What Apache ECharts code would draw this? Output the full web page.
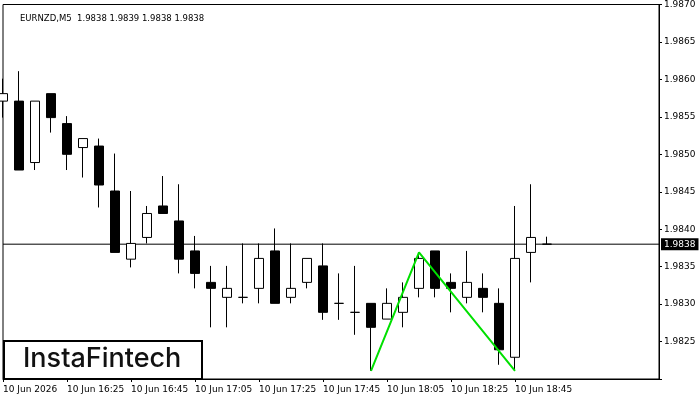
<!DOCTYPE html>
<html>
<head>
<meta charset="utf-8">
<script src="https://cdn.jsdelivr.net/npm/echarts@6/dist/echarts.min.js"></script>
<style>
html,body{margin:0;padding:0;background:#fff;}
#main{width:700px;height:400px;}
</style>
</head>
<body>
<div id="main"></div>
<script>
var times = ['16:05','16:10','16:15','16:20','16:25','16:30','16:35','16:40','16:45','16:50','16:55','17:00',
	'17:05','17:10','17:15','17:20','17:25','17:30','17:35','17:40','17:45','17:50','17:55','18:00',
	'18:05','18:10','18:15','18:20','18:25','18:30','18:35','18:40','18:45','18:50','18:55',
	'19:00','19:05','19:10','19:15','19:20','19:25','19:30'];
var opens  = [1.98571,1.98571,1.98489,1.98581,1.98541,1.98509,1.98511,1.98451,1.98360,1.98389,1.98431,1.98411,
	1.98371,1.98329,1.98309,1.98309,1.98321,1.98371,1.98309,1.98329,1.98351,1.98301,1.98289,1.98301,
	1.98280,1.98289,1.98321,1.98371,1.98329,1.98309,1.98321,1.98301,1.98229,1.98369,1.98380];
var closes = [1.98581,1.98479,1.98571,1.98549,1.98500,1.98521,1.98459,1.98369,1.98381,1.98421,1.98421,1.98360,
	1.98341,1.98321,1.98321,1.98309,1.98361,1.98301,1.98321,1.98361,1.98289,1.98301,1.98289,1.98269,
	1.98301,1.98309,1.98361,1.98321,1.98321,1.98329,1.98309,1.98239,1.98361,1.98389,1.98380];
var lows   = [1.98549,1.98479,1.98479,1.98529,1.98479,1.98469,1.98429,1.98369,1.98349,1.98381,1.98421,1.98341,
	1.98321,1.98269,1.98269,1.98301,1.98301,1.98301,1.98301,1.98321,1.98279,1.98279,1.98259,1.98211,
	1.98280,1.98269,1.98309,1.98309,1.98289,1.98301,1.98289,1.98219,1.98211,1.98329,1.98380];
var highs  = [1.98601,1.98611,1.98571,1.98581,1.98551,1.98521,1.98521,1.98501,1.98451,1.98431,1.98471,1.98460,
	1.98391,1.98351,1.98351,1.98381,1.98381,1.98401,1.98381,1.98361,1.98381,1.98341,1.98351,1.98301,
	1.98321,1.98329,1.98369,1.98371,1.98341,1.98371,1.98341,1.98321,1.98431,1.98460,1.98390];
// pattern: index -> price
var patternIdx = [23, 26, 32];
var patternVal = [1.98211, 1.98369, 1.98211];
var lastPrice = 1.9838;
var xLabelIdx = [0,4,8,12,16,20,24,28,32];

var candles = [];
for (var i = 0; i < opens.length; i++) candles.push([opens[i], closes[i], lows[i], highs[i]]);
var pattern = times.map(function(){ return null; });
patternIdx.forEach(function(k, j){ pattern[k] = patternVal[j]; });
var priceLine = times.map(function(){ return lastPrice; });

var myChart = echarts.init(document.getElementById('main'));
var font = 'DejaVu Sans';
var option = {
	animation: false,
	textStyle: {fontFamily: font},
	title: {
		text: 'EURNZD,M5  1.9838 1.9839 1.9838 1.9838',
		left: 15, top: 9,
		textStyle: {fontSize: 8.5, fontWeight: 'normal', color: '#000', fontFamily: font}
	},
	grid: {left: 3, right: 41, top: 4, bottom: 21, show: true, borderColor: '#000', borderWidth: 1},
	xAxis: {
		type: 'category', data: times, boundaryGap: false,
		axisLine: {lineStyle: {color: '#000'}},
		axisTick: {show: true, length: 3, lineStyle: {color: '#000'},
			interval: function(i){ return xLabelIdx.indexOf(i) >= 0; }},
		axisLabel: {
			color: '#000', fontSize: 9, align: 'left', margin: 6,
			interval: function(i){ return xLabelIdx.indexOf(i) >= 0; },
			formatter: function(v, i){ return i === 0 ? '10 Jun 2026' : '10 Jun ' + v; }
		},
		splitLine: {show: false}
	},
	yAxis: {
		type: 'value', position: 'right', min: 1.9820, max: 1.9870, interval: 0.0005,
		axisLine: {show: true, lineStyle: {color: '#000'}},
		axisTick: {show: true, length: 3, lineStyle: {color: '#000'}},
		axisLabel: {color: '#000', fontSize: 9, margin: 5,
			formatter: function(v){ return v <= 1.98201 ? '' : v.toFixed(4); }},
		splitLine: {show: false}
	},
	series: [{
		type: 'line',
		data: priceLine,
		symbol: 'none', silent: true, z: 1,
		lineStyle: {color: '#000', width: 1},
		endLabel: {
			show: true, formatter: lastPrice.toFixed(4), color: '#fff',
			backgroundColor: '#000', padding: [2, 3, 1, 3], fontSize: 9, distance: 2
		}
	}, {
		type: 'candlestick',
		data: candles,
		barWidth: 10, z: 3,
		itemStyle: {color: '#fff', color0: '#000', borderColor: '#000', borderColor0: '#000', borderWidth: 1}
	}, {
		type: 'line',
		data: pattern,
		connectNulls: true,
		symbol: 'none', z: 4,
		lineStyle: {color: '#00e000', width: 2}
	}],
	graphic: [{
		type: 'rect', left: 3, top: 340,
		shape: {width: 198, height: 38},
		style: {fill: '#fff', stroke: '#000', lineWidth: 2}
	}, {
		type: 'text', left: 23, top: 345,
		style: {text: 'InstaFintech', fill: '#111', font: '500 27px Inter'}
	}]
};
myChart.setOption(option);
</script>
</body>
</html>
